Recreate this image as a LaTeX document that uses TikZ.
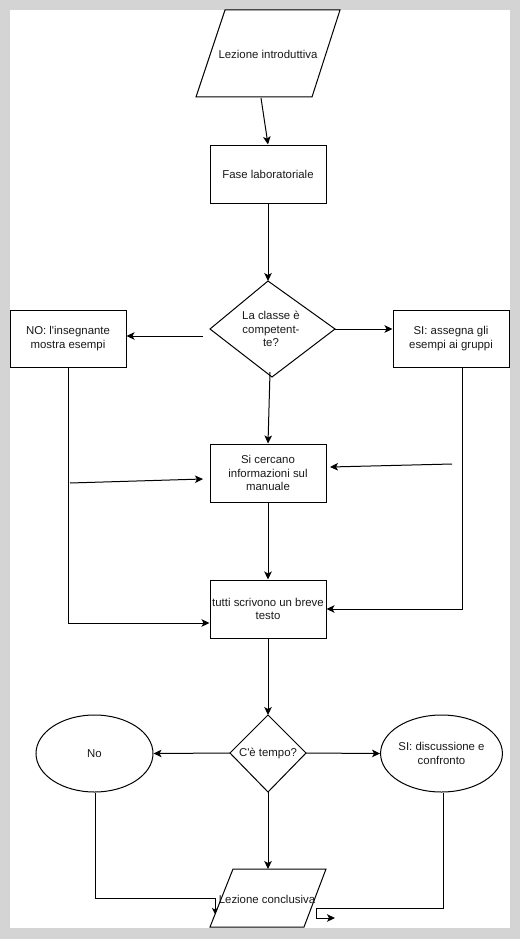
\documentclass[tikz,border=0pt]{standalone}
\usepackage{fontspec}
\setmainfont{Liberation Sans}
\usetikzlibrary{arrows.meta,shapes.geometric}
\definecolor{framegray}{RGB}{212,212,212}
\definecolor{ink}{RGB}{25,25,25}
\begin{document}
\begin{tikzpicture}[x=1pt,y=-1pt,
  every node/.style={font=\fontsize{11.4}{13.5}\selectfont, align=center, inner sep=0pt, text=ink},
  box/.style={draw=black, line width=1pt, minimum width=116pt, minimum height=58pt},
  oval/.style={draw=black, ellipse, line width=1pt, minimum width=117pt, minimum height=77pt},
  shp/.style={draw=black, line width=1pt},
  conn/.style={draw=black, line width=1pt, -{Stealth[length=8pt,width=7.5pt,inset=2pt]}},
  wire/.style={draw=black, line width=1pt}]
\useasboundingbox (0,0) rectangle (520,939);
\fill[framegray] (0,0) rectangle (520,939);
\fill[white] (10,10) rectangle (510,928);

% start parallelogram
\draw[shp] (225,10) -- (340,10) -- (312,97) -- (196,97) -- cycle;
\node (intro) at (268,54) {Lezione introduttiva};
\coordinate (introB) at (261,98);

% Fase laboratoriale
\node[box] (fase) at (268,174) {Fase laboratoriale};

% diamond 1
\draw[shp] (268,281) -- (335,329) -- (272,377) -- (210,329) -- cycle;
\node (q1) at (271,329) {La classe è\\competent-\\te?};
\coordinate (q1T) at (268,281);
\coordinate (q1L) at (203,336);
\coordinate (q1R) at (335,329);
\coordinate (q1B) at (270,372);

% side boxes
\node[box, minimum height=57pt] (no1) at (68,338.5) {NO: l\textquotesingle insegnante\\mostra esempi};
\node[box, minimum height=57pt] (si1) at (451,338.5) {SI: assegna gli\\esempi ai gruppi};

% Si cercano
\node[box] (cerca) at (268,473) {Si cercano\\informazioni sul\\manuale};
% tutti scrivono
\node[box] (tutti) at (268,609) {tutti scrivono un breve\\testo};

% diamond 2
\draw[shp] (268,715) -- (306,753) -- (268,792) -- (230,753) -- cycle;
\node (q2) at (268,753) {C\textquotesingle è tempo?};
\coordinate (q2T) at (268,715);
\coordinate (q2L) at (230,753);
\coordinate (q2R) at (306,753);
\coordinate (q2B) at (268,792);

% ellipses
\node[oval] (no2) at (94.5,753.5) {No};
\node[oval] (si2) at (441.5,753.5) {SI: discussione e\\confronto};

% end parallelogram
\draw[shp] (233,869) -- (326,869) -- (304,927) -- (210,927) -- cycle;
\node (fine) at (267,899) {Lezione conclusiva};
\coordinate (fineT) at (268,869);

% free connector ends
\coordinate (lA) at (70,483);
\coordinate (rA) at (452,464);
\coordinate (cerL) at (203,479);
\coordinate (cerR) at (330,467);
\coordinate (noC) at (68,623);
\coordinate (siC) at (462,609);
\coordinate (no2C) at (95,898);
\coordinate (no2D) at (215,898);
\coordinate (no2E) at (215,914);
\coordinate (si2C) at (443,908);
\coordinate (si2D) at (316,908);
\coordinate (si2E) at (316,918);
\coordinate (si2F) at (335,918);

% connectors
\draw[conn] (introB) -- (fase.north);
\draw[conn] (fase.south) -- (q1T);
\draw[conn] (q1L) -- (no1.east |- q1L);
\draw[conn] (q1R) -- (si1.west |- q1R);
\draw[conn] (q1B) -- (cerca.north);
\draw[conn] (lA) -- (cerL);
\draw[conn] (rA) -- (cerR);
\draw[conn] (cerca.south) -- (tutti.north);
\draw[conn] (no1.south -| noC) -- (noC) -- (tutti.west |- noC);
\draw[conn] (si1.south -| siC) -- (siC) -- (tutti.east |- siC);
\draw[conn] (tutti.south) -- (q2T);
\draw[conn] (q2L) -- (no2.east);
\draw[conn] (q2R) -- (si2.west);
\draw[conn] (q2B) -- (fineT);
\draw[conn, -{Stealth[length=6pt,width=6pt,inset=1.5pt]}] (no2.south -| no2C) -- (no2C) -- (no2D) -- (no2E);
\draw[conn] (si2.south -| si2C) -- (si2C) -- (si2D) -- (si2E) -- (si2F);
\end{tikzpicture}
\end{document}
